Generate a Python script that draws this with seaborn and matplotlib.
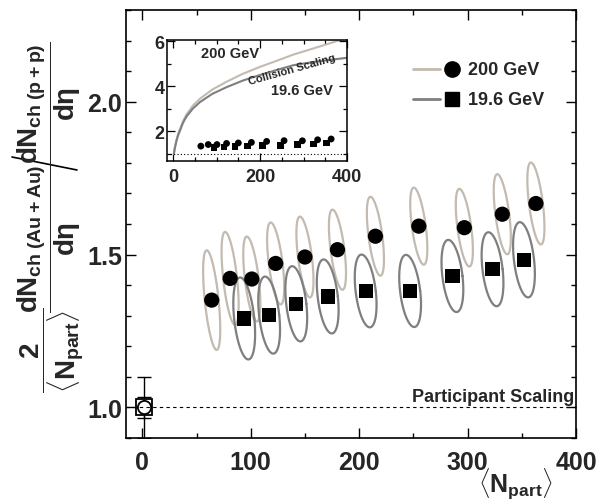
import numpy as np
import pandas as pd
import seaborn as sns
import matplotlib.pyplot as plt
from matplotlib.lines import Line2D
from matplotlib.ticker import MultipleLocator, FixedLocator

sns.set_style("ticks")
plt.rcParams["font.family"] = ["Liberation Sans", "DejaVu Sans"]
plt.rcParams["font.weight"] = "bold"
plt.rcParams["mathtext.fontset"] = "custom"
plt.rcParams["mathtext.rm"] = "Liberation Sans:bold"
plt.rcParams["mathtext.it"] = "Liberation Sans:bold"
plt.rcParams["mathtext.bf"] = "Liberation Sans:bold"

#==========================================================================
# Data
#==========================================================================
# 200 GeV Au+Au / p+p, per participant pair
npart_200 = [64, 81, 101, 123, 150, 180, 215, 255, 297, 332, 363]
ratio_200 = [1.351, 1.422, 1.420, 1.471, 1.492, 1.516, 1.560, 1.593, 1.588, 1.632, 1.667]
err_200 = [0.163, 0.152, 0.139, 0.134, 0.132, 0.131, 0.129, 0.126, 0.127, 0.131, 0.134]

# 19.6 GeV
npart_19 = [94, 117, 142, 171, 206, 247, 286, 323, 352]
ratio_19 = [1.291, 1.302, 1.339, 1.363, 1.381, 1.381, 1.430, 1.452, 1.483]
err_19 = [0.134, 0.126, 0.123, 0.121, 0.119, 0.118, 0.118, 0.121, 0.123]

# p+p reference point
pp_npart = [2]
pp_ratio = [1.0]
pp_err_small = [0.035]
pp_err_large = [0.1]

# collision scaling curves for the inset
coll_npart = [2, 4, 8, 12, 16, 23, 31, 46, 62, 90, 123, 160, 200, 240, 276, 320, 360, 400]
coll_200 = [1.0, 1.25, 1.62, 1.90, 2.10, 2.45, 2.75, 3.15, 3.45, 3.85, 4.20, 4.55, 4.86, 5.14, 5.40, 5.66, 5.90, 6.15]
coll_19 = [1.0, 1.23, 1.58, 1.84, 2.03, 2.38, 2.66, 3.02, 3.30, 3.66, 3.96, 4.25, 4.50, 4.73, 4.93, 5.07, 5.17, 5.26]

participant_level = 1.0

df200 = pd.DataFrame({"npart": npart_200, "ratio": ratio_200, "err": err_200})
df19 = pd.DataFrame({"npart": npart_19, "ratio": ratio_19, "err": err_19})
dfcoll = pd.DataFrame({"npart": coll_npart, "c200": coll_200, "c19": coll_19})

beige = "#c3bab0"
grey = "#7f7f7f"

#==========================================================================
# Main panel
#==========================================================================
fig = plt.figure(figsize=(6.05, 5.02), dpi=100)
ax = fig.add_axes([0.2083, 0.1255, 0.7438, 0.8526])

# correlated error ellipses (half width and lean in Npart units)
t = np.linspace(0, 2 * np.pi, 120)
for df, col, half_w, lean in [(df200, beige, 6.4, 4.6), (df19, grey, 9.3, 3.8)]:
    for _, row in df.iterrows():
        ex = row["npart"] + half_w * np.cos(t) - lean * np.sin(t)
        ey = row["ratio"] + row["err"] * np.sin(t)
        ax.plot(ex, ey, color=col, lw=1.6, zorder=2)

sns.scatterplot(data=df200, x="npart", y="ratio", marker="o", s=120,
                color="black", edgecolor="none", ax=ax, zorder=3, legend=False)
sns.scatterplot(data=df19, x="npart", y="ratio", marker="s", s=105,
                color="black", edgecolor="none", ax=ax, zorder=3, legend=False)

# p+p point
ax.errorbar(pp_npart, pp_ratio, yerr=pp_err_large, fmt="none", ecolor="black",
            elinewidth=1, capsize=5, capthick=1, zorder=2)
ax.errorbar(pp_npart, pp_ratio, yerr=pp_err_small, fmt="none", ecolor="black",
            elinewidth=1, capsize=5, capthick=1, zorder=2)
ax.plot(pp_npart, pp_ratio, marker="s", ms=11.5, mfc="white", mec="black",
        mew=1.3, ls="none", zorder=3)
ax.plot(pp_npart, pp_ratio, marker="o", ms=9.5, mfc="none", mec="black",
        mew=1.3, ls="none", zorder=4)

ax.axhline(participant_level, color="black", lw=0.8, ls=(0, (3, 3)), zorder=4)
ax.text(398, 1.02, "Participant Scaling", ha="right", va="baseline",
        fontsize=13, fontweight="bold")

ax.set_xlim(-15, 400)
ax.set_ylim(0.9, 2.3)
ax.xaxis.set_major_locator(FixedLocator([0, 100, 200, 300, 400]))
ax.xaxis.set_minor_locator(MultipleLocator(50))
ax.yaxis.set_major_locator(FixedLocator([1.0, 1.5, 2.0]))
ax.yaxis.set_minor_locator(MultipleLocator(0.1))
ax.yaxis.set_major_formatter("{x:.1f}")
ax.set_xlabel("")
ax.set_ylabel("")
ax.tick_params(which="both", direction="in", top=True, right=True,
               width=1, color="black")
ax.tick_params(which="major", length=7.5)
ax.tick_params(which="minor", length=3.8)
ax.tick_params(axis="x", labelsize=18, pad=9)
ax.tick_params(axis="y", labelsize=18, pad=3)
for sp in ax.spines.values():
    sp.set_visible(True)
    sp.set_linewidth(1.2)
    sp.set_color("black")

# legend drawn by hand
for yy, col, mk, lab in [(0.862, beige, "o", "200 GeV"), (0.792, grey, "s", "19.6 GeV")]:
    ax.plot([0.638, 0.698], [yy, yy], color=col, lw=2, transform=ax.transAxes)
    ax.plot([0.724], [yy], marker=mk, ms=11 if mk == "o" else 10.5, color="black",
            ls="none", transform=ax.transAxes)
    ax.text(0.76, yy, lab, transform=ax.transAxes, ha="left", va="center",
            fontsize=13, fontweight="bold")

#==========================================================================
# Inset
#==========================================================================
axin = fig.add_axes([0.2765, 0.6767, 0.2975, 0.2422])
sns.lineplot(data=dfcoll, x="npart", y="c200", color=beige, lw=1.5, ax=axin)
sns.lineplot(data=dfcoll, x="npart", y="c19", color=grey, lw=1.5, ax=axin)
axin.axhline(participant_level, color="black", lw=0.8, ls=(0, (1, 2)))
sns.scatterplot(data=df200, x="npart", y="ratio", marker="o", s=24,
                color="black", edgecolor="none", ax=axin, legend=False, zorder=3)
sns.scatterplot(data=df19, x="npart", y="ratio", marker="s", s=22,
                color="black", edgecolor="none", ax=axin, legend=False, zorder=3)
axin.set_xlim(-13, 400)
axin.set_ylim(0.68, 6.06)
axin.xaxis.set_major_locator(FixedLocator([0, 200, 400]))
axin.xaxis.set_minor_locator(MultipleLocator(50))
axin.yaxis.set_major_locator(FixedLocator([2, 4, 6]))
axin.yaxis.set_minor_locator(MultipleLocator(1))
axin.set_xlabel("")
axin.set_ylabel("")
axin.tick_params(which="both", direction="in", top=True, right=True,
                 width=0.9, color="black")
axin.tick_params(which="major", length=5.5)
axin.tick_params(which="minor", length=3)
axin.tick_params(axis="x", labelsize=13, pad=5)
axin.tick_params(axis="y", labelsize=13, pad=2)
for sp in axin.spines.values():
    sp.set_visible(True)
    sp.set_linewidth(1.1)
    sp.set_color("black")
axin.text(65, 5.48, "200 GeV", ha="left", va="center", fontsize=10.5, fontweight="bold")
axin.text(226, 3.82, "19.6 GeV", ha="left", va="center", fontsize=10.5, fontweight="bold")
axin.text(274, 4.78, "Collision Scaling", ha="center", va="center", fontsize=8,
          fontweight="bold", rotation=15.7, rotation_mode="anchor")

#==========================================================================
# Axis titles
#==========================================================================
fig.text(515 / 605, 1 - 484 / 502, r"$\langle N_{part}\rangle$", fontsize=18,
         ha="center", va="center")

fig.text(49 / 605, 1 - 103 / 502, r"$\dfrac{dN_{ch\;(p+p)}}{d\eta}$",
         rotation=90, ha="center", va="center", fontsize=20)
fig.text(49 / 605, 1 - 238 / 502, r"$\dfrac{dN_{ch\;(Au+Au)}}{d\eta}$",
         rotation=90, ha="center", va="center", fontsize=20)
fig.text(52 / 605, 1 - 350 / 502, r"$\dfrac{2}{\langle N_{part}\rangle}$",
         rotation=90, ha="center", va="center", fontsize=20)
fig.add_artist(Line2D([12 / 605, 77 / 605], [1 - 158 / 502, 1 - 171 / 502],
                      color="black", lw=1.2))

fig.savefig("out.png", dpi=100)
